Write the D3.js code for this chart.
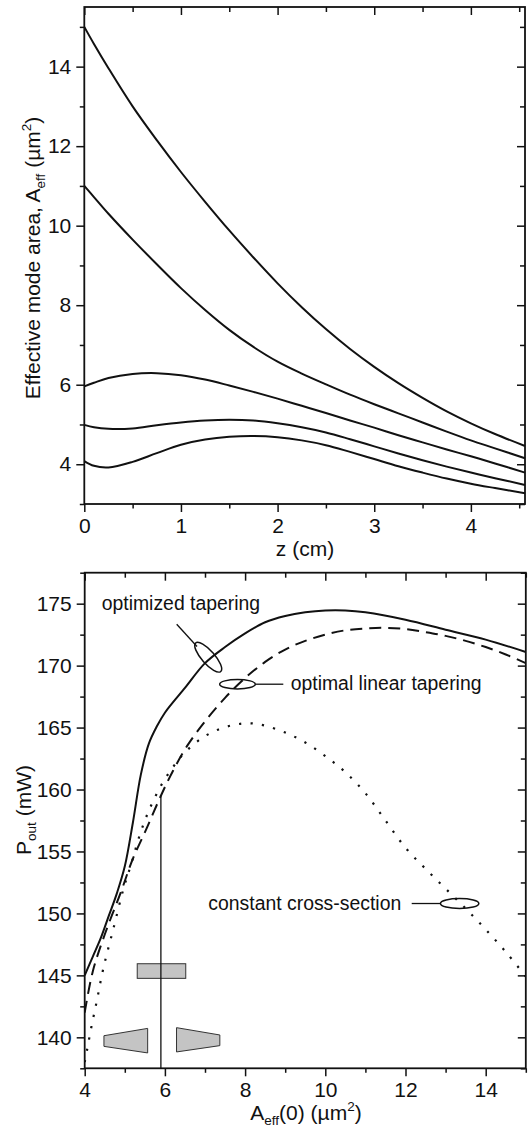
<!DOCTYPE html>
<html><head><meta charset="utf-8">
<script src="https://cdn.jsdelivr.net/npm/d3@7"></script>
<style>
body{margin:0;background:#fff}
svg{display:block}
text{font-family:"Liberation Sans",Arial,Helvetica,sans-serif;fill:#111}
</style>
</head><body>
<svg id="c" width="530" height="1133"></svg>
<script>
// ---------- Top panel data: effective mode area vs z ----------
const zGrid      = [0, 0.1, 0.25, 0.5, 0.75, 1.0, 1.25, 1.5, 1.75, 2.0, 2.25, 2.5, 2.75, 3.0, 3.25, 3.5, 3.75, 4.0, 4.25, 4.56];
const areaStart15 = [15.0, 14.57, 13.96, 13.0, 12.15, 11.35, 10.6, 9.88, 9.2, 8.55, 7.95, 7.4, 6.9, 6.45, 6.04, 5.67, 5.33, 5.03, 4.76, 4.46];
const areaStart11 = [11.0, 10.72, 10.3, 9.65, 9.03, 8.43, 7.88, 7.38, 6.95, 6.58, 6.28, 6.01, 5.75, 5.51, 5.28, 5.05, 4.82, 4.6, 4.4, 4.15];
const areaStart6  = [5.96, 6.05, 6.17, 6.27, 6.29, 6.24, 6.13, 5.98, 5.82, 5.65, 5.47, 5.29, 5.1, 4.92, 4.73, 4.55, 4.37, 4.2, 4.02, 3.79];
const areaStart5  = [4.99, 4.93, 4.89, 4.9, 4.98, 5.05, 5.1, 5.12, 5.1, 5.03, 4.93, 4.8, 4.63, 4.45, 4.27, 4.1, 3.94, 3.79, 3.65, 3.48];
const areaStart4  = [4.08, 3.96, 3.92, 4.06, 4.28, 4.49, 4.62, 4.69, 4.71, 4.68, 4.6, 4.48, 4.31, 4.13, 3.95, 3.79, 3.64, 3.51, 3.4, 3.27];
const topSeries = [areaStart15, areaStart11, areaStart6, areaStart5, areaStart4];
const topXTicks = [0, 1, 2, 3, 4];
const topYTicks = [4, 6, 8, 10, 12, 14];

// ---------- Bottom panel data: P_out vs A_eff(0) ----------
const aOptimized = [4, 4.2, 4.4, 4.6, 4.8, 5.0, 5.2, 5.4, 5.6, 5.8, 6.0, 6.5, 7.0, 7.5, 8.0, 8.5, 9, 9.5, 10, 10.5, 11, 12, 13, 14, 15];
const pOptimized = [145, 146.5, 148, 149.8, 151.6, 153.8, 157.3, 161.2, 163.7, 165.1, 166.2, 168.2, 170.2, 171.5, 172.6, 173.5, 174.0, 174.3, 174.45, 174.45, 174.3, 173.7, 172.9, 172.1, 171.1];
const aLinear = [4, 4.2, 4.5, 4.9, 5.2, 5.55, 5.9, 6.2, 6.55, 7.0, 7.5, 8.0, 8.5, 9, 9.5, 10, 10.5, 11, 11.5, 12, 12.5, 13, 13.5, 14, 14.5, 15];
const pLinear = [142.0, 145.3, 148.3, 151.7, 154.4, 156.9, 159.5, 161.5, 163.5, 165.5, 167.4, 169.0, 170.3, 171.3, 172.0, 172.5, 172.85, 173.0, 173.05, 172.95, 172.7, 172.4, 172.0, 171.5, 170.9, 170.2];
const aConstant = [4.0, 4.06, 4.17, 4.3, 4.46, 4.71, 4.96, 5.17, 5.38, 5.6, 5.9, 6.2, 6.5, 6.9, 7.3, 7.7, 8.1, 8.5, 9, 9.5, 10, 10.5, 11, 11.5, 12, 12.5, 13, 13.5, 14, 14.5, 15];
const pConstant = [138.0, 139.0, 140.9, 142.9, 145.5, 148.7, 151.9, 154.1, 156.4, 158.3, 160.3, 161.8, 163.0, 164.1, 164.8, 165.2, 165.35, 165.15, 164.6, 163.8, 162.7, 161.4, 159.7, 157.5, 155.3, 153.6, 152.0, 150.4, 148.7, 146.9, 144.9];
const botXTicks = [4, 6, 8, 10, 12, 14];
const botYTicks = [140, 145, 150, 155, 160, 165, 170, 175];
const markerA = 5.9;   // vertical marker line position
const annotations = ["optimized tapering", "optimal linear tapering", "constant cross-section"];

const svg = d3.select("#c");
svg.append("rect").attr("width",530).attr("height",1133).attr("fill","#fff");
const INK = "#111";
const FS = 21;

function range(a,b,s){const r=[];for(let v=a;v<=b+1e-9;v+=s)r.push(+v.toFixed(4));return r;}

function drawAxes(g, x, y, opt){
  const [x0,x1] = x.range(), [y0,y1] = y.range();
  g.append("g").attr("transform",`translate(0,${y0})`)
    .call(d3.axisBottom(x).tickValues(opt.xMajor).tickSize(8).tickPadding(6).tickFormat(d3.format("d")));
  g.append("g").attr("transform",`translate(0,${y0})`)
    .call(d3.axisBottom(x).tickValues(opt.xMinor).tickSize(4.5).tickFormat(""));
  g.append("g").attr("transform",`translate(${x0},0)`)
    .call(d3.axisLeft(y).tickValues(opt.yMajor).tickSize(8).tickPadding(5).tickFormat(d3.format("d")));
  g.append("g").attr("transform",`translate(${x0},0)`)
    .call(d3.axisLeft(y).tickValues(opt.yMinor).tickSize(4.5).tickFormat(""));
  g.append("g").attr("transform",`translate(0,${y1})`)
    .call(d3.axisTop(x).tickValues(opt.xMajor).tickSize(-8).tickFormat(""));
  g.append("g").attr("transform",`translate(0,${y1})`)
    .call(d3.axisTop(x).tickValues(opt.topMinor).tickSize(-5).tickFormat(""));
  g.append("g").attr("transform",`translate(${x1},0)`)
    .call(d3.axisRight(y).tickValues(opt.yMajor).tickSize(-8).tickFormat(""));
  g.append("g").attr("transform",`translate(${x1},0)`)
    .call(d3.axisRight(y).tickValues(opt.rightMinor).tickSize(-5).tickFormat(""));
  g.selectAll(".domain").remove();
  g.selectAll(".tick line").attr("stroke",INK).attr("stroke-width",1.5);
  g.selectAll(".tick text").attr("font-size",FS).attr("fill",INK)
    .attr("font-family",'"Liberation Sans",Arial,sans-serif');
  g.append("rect").attr("x",x0).attr("y",y1).attr("width",x1-x0).attr("height",y0-y1)
    .attr("fill","none").attr("stroke",INK).attr("stroke-width",1.8);
}

// ================= TOP PANEL =================
const xT = d3.scaleLinear().domain([0,4.56]).range([84.3,525]);
const yT = d3.scaleLinear().domain([3,15.5]).range([504,7]);
const gT = svg.append("g");
const topLine = d3.line().x((d,i)=>xT(zGrid[i])).y(d=>yT(d)).curve(d3.curveCatmullRom.alpha(0.5));
gT.selectAll("path.curve").data(topSeries).join("path")
  .attr("class","curve").attr("d",topLine).attr("fill","none")
  .attr("stroke",INK).attr("stroke-width",2);
drawAxes(gT, xT, yT, {
  xMajor: topXTicks, xMinor: range(0.5,4.5,1), topMinor: range(0.5,4.5,1),
  yMajor: topYTicks, yMinor: range(3,15,2), rightMinor: range(3,15,2)
});
gT.append("text").attr("x",305).attr("y",556).attr("text-anchor","middle").attr("font-size",FS).text("z (cm)");
{
  const t = gT.append("text").attr("transform","rotate(-90)").attr("x",-258).attr("y",40)
    .attr("text-anchor","middle").attr("font-size",FS);
  t.append("tspan").text("Effective mode area, A");
  t.append("tspan").attr("dy",5).attr("font-size",13.5).text("eff");
  t.append("tspan").attr("dy",-5).text(" (\u00B5m");
  t.append("tspan").attr("dy",-9).attr("font-size",13.5).text("2");
  t.append("tspan").attr("dy",9).text(")");
}

// ================= BOTTOM PANEL =================
const xB = d3.scaleLinear().domain([4,15]).range([84.7,525.8]);
const yB = d3.scaleLinear().domain([137.5,177.5]).range([1068.3,572.7]);
const gB = svg.append("g");
svg.append("clipPath").attr("id","clipB").append("rect")
  .attr("x",84.7).attr("y",572.7).attr("width",525.8-84.7).attr("height",1068.3-572.7);

const botLine = (xs) => d3.line().x((d,i)=>xB(xs[i])).y(d=>yB(d)).curve(d3.curveCatmullRom.alpha(0.5));
const gc = gB.append("g").attr("clip-path","url(#clipB)");

gc.append("rect").attr("x",xB(5.31)).attr("y",yB(145.94))
  .attr("width",xB(6.52)-xB(5.31)).attr("height",yB(144.76)-yB(145.94))
  .attr("fill","#c4c4c4").attr("stroke","#333").attr("stroke-width",1);
const trapL = [[4.48,140.13],[5.57,140.72],[5.57,138.74],[4.48,139.27]];
const trapR = [[6.29,140.78],[7.37,140.19],[7.37,139.33],[6.29,138.82]];
[trapL,trapR].forEach(pts=>{
  gc.append("path").attr("d", d3.line().x(d=>xB(d[0])).y(d=>yB(d[1]))(pts)+"Z")
    .attr("fill","#c4c4c4").attr("stroke","#333").attr("stroke-width",1);
});
gc.append("line").attr("x1",xB(markerA)).attr("x2",xB(markerA))
  .attr("y1",yB(137.5)).attr("y2",yB(159.5)).attr("stroke",INK).attr("stroke-width",1.3);

gc.append("path").attr("d",botLine(aConstant)(pConstant)).attr("fill","none")
  .attr("stroke",INK).attr("stroke-width",2.2).attr("stroke-dasharray","2.2,9.3");
gc.append("path").attr("d",botLine(aLinear)(pLinear)).attr("fill","none")
  .attr("stroke",INK).attr("stroke-width",2).attr("stroke-dasharray","12,7");
gc.append("path").attr("d",botLine(aOptimized)(pOptimized)).attr("fill","none")
  .attr("stroke",INK).attr("stroke-width",2);

drawAxes(gB, xB, yB, {
  xMajor: botXTicks, xMinor: range(5,15,2), topMinor: range(5,15,2),
  yMajor: botYTicks, yMinor: range(137.5,177.5,5), rightMinor: range(137.5,177.5,5)
});

const AFS = 19.4;
gB.append("text").attr("x",101.7).attr("y",610).attr("font-size",AFS).text(annotations[0]);
gB.append("line").attr("x1",176.7).attr("y1",624.3).attr("x2",197).attr("y2",646.5).attr("stroke",INK).attr("stroke-width",1.3);
gB.append("ellipse").attr("cx",xB(7.08)).attr("cy",yB(170.68)).attr("rx",19).attr("ry",6.5)
  .attr("transform",`rotate(48.6,${xB(7.08)},${yB(170.68)})`)
  .attr("fill","none").attr("stroke",INK).attr("stroke-width",1.5);

gB.append("ellipse").attr("cx",xB(7.81)).attr("cy",yB(168.5)).attr("rx",17.8).attr("ry",4.7)
  .attr("fill","none").attr("stroke",INK).attr("stroke-width",1.5);
gB.append("line").attr("x1",xB(7.81)+17.8).attr("y1",yB(168.5)).attr("x2",283.3).attr("y2",yB(168.5)).attr("stroke",INK).attr("stroke-width",1.3);
gB.append("text").attr("x",290.7).attr("y",690).attr("font-size",AFS).text(annotations[1]);

gB.append("text").attr("x",208.3).attr("y",910).attr("font-size",AFS).text(annotations[2]);
gB.append("line").attr("x1",411.7).attr("y1",yB(150.8)).attr("x2",xB(13.35)-19.2).attr("y2",yB(150.8)).attr("stroke",INK).attr("stroke-width",1.3);
gB.append("ellipse").attr("cx",xB(13.35)).attr("cy",yB(150.8)).attr("rx",19.2).attr("ry",5)
  .attr("fill","none").attr("stroke",INK).attr("stroke-width",1.5);

{
  const t = gB.append("text").attr("x",306).attr("y",1120).attr("text-anchor","middle").attr("font-size",FS);
  t.append("tspan").text("A");
  t.append("tspan").attr("dy",5).attr("font-size",13.5).text("eff");
  t.append("tspan").attr("dy",-5).text("(0) (\u00B5m");
  t.append("tspan").attr("dy",-9).attr("font-size",13.5).text("2");
  t.append("tspan").attr("dy",9).text(")");
}
{
  const t = gB.append("text").attr("transform","rotate(-90)").attr("x",-810).attr("y",31)
    .attr("text-anchor","middle").attr("font-size",FS);
  t.append("tspan").text("P");
  t.append("tspan").attr("dy",5).attr("font-size",13.5).text("out");
  t.append("tspan").attr("dy",-5).attr("dx",6).text("(mW)");
}
</script>
</body></html>
